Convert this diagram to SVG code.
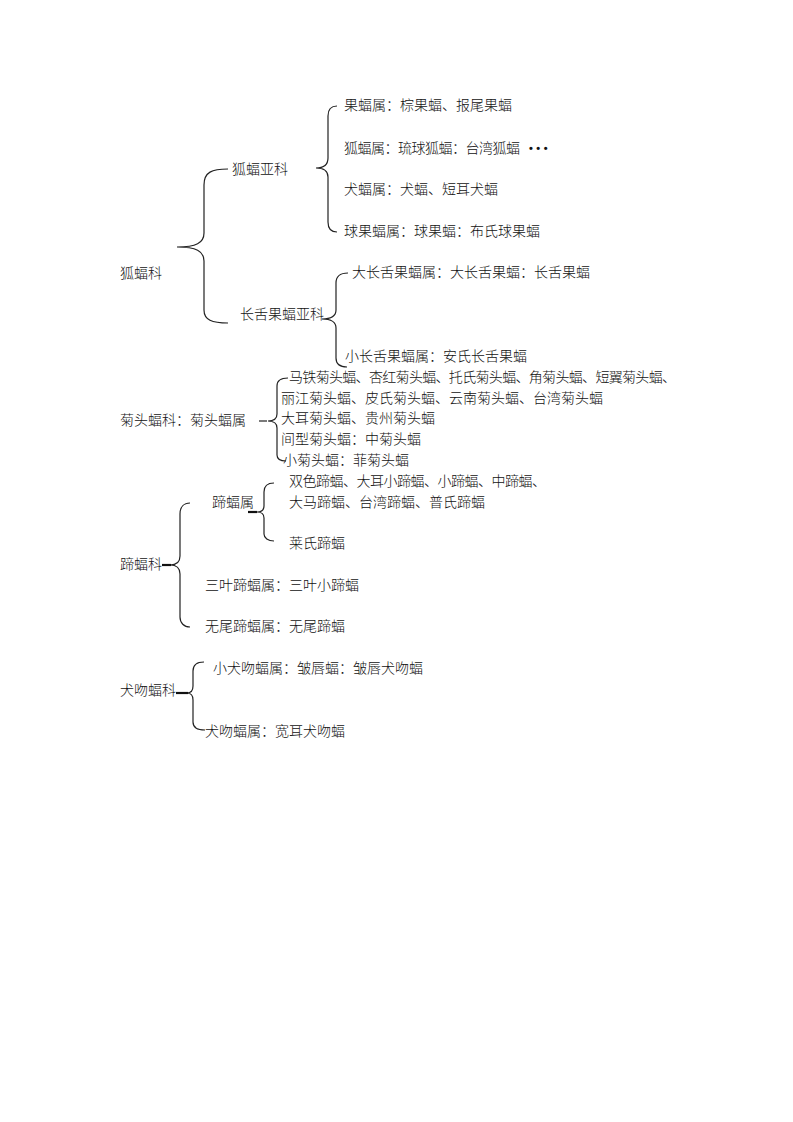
<svg xmlns="http://www.w3.org/2000/svg" width="793" height="1122" viewBox="0 0 793 1122">
<style>
text{font-family:"Noto Sans CJK SC","Noto Sans CJK JP",sans-serif;font-size:14px;fill:#111;font-weight:300}
.c{fill:none;stroke:#222;stroke-width:1.2}
.s{fill:none;stroke:#111;stroke-width:2.2}
.d{font-family:"Liberation Sans",sans-serif;font-weight:bold;font-size:11px;letter-spacing:3.5px}
</style>
<rect width="793" height="1122" fill="#fff"/>
<g id="connectors">
<path class="c" d="M228,169 C212,169 204,172 204,185 L204,233 C204,243 196,247 177,247 C196,247 204,251 204,261 L204,310 C204,320 212,323 228,323"/>
<path class="c" d="M337,106 C331,106 328,109 328,116 L328,158 C328,164 324,168 316,168 C324,168 328,171 328,177 L328,222 C328,229 331,232 337,232"/>
<path class="c" d="M348,273 C341,273 336,276 336,283 L336,310 C336,316 332,319 322,319 C332,319 336,322 336,328 L336,358 C336,364 340,367 347,367"/>
<path class="c" d="M288,378 C280,378 277,381 277,386 L277,414 C277,419 274,421 268,421 C274,421 277,423 277,428 L277,455 C277,459 280,461 286,461"/>
<path class="c" d="M259,421 L267,421"/>
<path class="c" d="M190,503 C184,503 180,507 180,514 L180,556 C180,562 177,565 170,565 C177,565 180,568 180,574 L180,617 C180,623 184,627 190,627"/>
<path class="s" d="M162,565 L171,565"/>
<path class="c" d="M274,483 C268,483 264,486 264,492 L264,506 C264,510 262,512 257,512 C262,512 264,514 264,518 L264,534 C264,538 268,541 274,541"/>
<path class="s" d="M248,512 L257,512"/>
<path class="c" d="M204,662 C197,662 193,665 193,671 L193,686 C193,690 191,693 187,693 C191,693 193,696 193,700 L193,722 C193,727 197,730 205,730"/>
<path class="s" d="M176,693 L188,693"/>
</g>
<g id="n1"><text x="120" y="278">狐蝠科</text></g>
<g id="n2"><text x="232" y="174">狐蝠亚科</text></g>
<g id="n3"><text x="344" y="110">果蝠属：棕果蝠、报尾果蝠</text></g>
<g id="n4"><text x="344" y="153" textLength="176">狐蝠属：琉球狐蝠：台湾狐蝠</text><text class="d" x="529" y="152">•••</text></g>
<g id="n5"><text x="344" y="194">犬蝠属：犬蝠、短耳犬蝠</text></g>
<g id="n6"><text x="344" y="236">球果蝠属：球果蝠：布氏球果蝠</text></g>
<g id="n7"><text x="240" y="319">长舌果蝠亚科</text></g>
<g id="n8"><text x="352" y="277">大长舌果蝠属：大长舌果蝠：长舌果蝠</text></g>
<g id="n9"><text x="345" y="361">小长舌果蝠属：安氏长舌果蝠</text></g>
<g id="n10"><text x="120" y="425">菊头蝠科：菊头蝠属</text></g>
<g id="n11"><text x="289" y="382" textLength="387">马铁菊头蝠、杏红菊头蝠、托氏菊头蝠、角菊头蝠、短翼菊头蝠、</text></g>
<g id="n12"><text x="281" y="403">丽江菊头蝠、皮氏菊头蝠、云南菊头蝠、台湾菊头蝠</text></g>
<g id="n13"><text x="281" y="423">大耳菊头蝠、贵州菊头蝠</text></g>
<g id="n14"><text x="281" y="444">间型菊头蝠：中菊头蝠</text></g>
<g id="n15"><text x="283" y="465">小菊头蝠：菲菊头蝠</text></g>
<g id="n16"><text x="120" y="569">蹄蝠科</text></g>
<g id="n17"><text x="212" y="507">蹄蝠属</text></g>
<g id="n18"><text x="289" y="486" textLength="257">双色蹄蝠、大耳小蹄蝠、小蹄蝠、中蹄蝠、</text></g>
<g id="n19"><text x="289" y="507">大马蹄蝠、台湾蹄蝠、普氏蹄蝠</text></g>
<g id="n20"><text x="289" y="548">莱氏蹄蝠</text></g>
<g id="n21"><text x="205" y="590">三叶蹄蝠属：三叶小蹄蝠</text></g>
<g id="n22"><text x="205" y="631">无尾蹄蝠属：无尾蹄蝠</text></g>
<g id="n23"><text x="120" y="695">犬吻蝠科</text></g>
<g id="n24"><text x="213" y="673">小犬吻蝠属：皱唇蝠：皱唇犬吻蝠</text></g>
<g id="n25"><text x="205" y="736">犬吻蝠属：宽耳犬吻蝠</text></g>
</svg>
